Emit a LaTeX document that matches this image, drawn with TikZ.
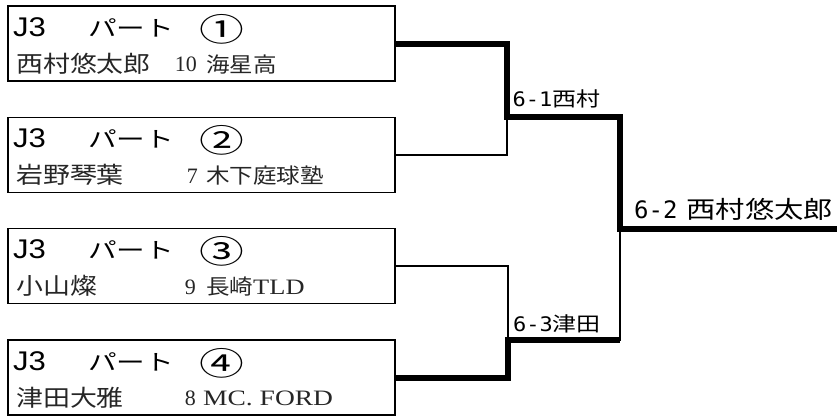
\documentclass[tikz,border=0pt]{standalone}
\usepackage{fontspec}
\setmainfont{Liberation Serif}
\newfontfamily\goth{Noto Sans CJK JP}
\newfontfamily\arialfont{Liberation Sans}
\newfontfamily\hankaku{DejaVu Sans Mono}
\newcommand{\wide}[2][1.2]{\scalebox{#1}[1]{#2}}

\tikzset{
  player/.style={draw,line width=1.6pt,minimum width=387pt,minimum height=75pt,inner sep=0pt},
  parttext/.style={anchor=base west,inner sep=0pt,font=\goth\fontsize{22}{22}\selectfont},
  pname/.style={anchor=base west,inner sep=0pt,text=black!85,font=\goth\fontsize{23}{23}\selectfont},
  pseed/.style={anchor=base east,inner sep=0pt,text=black!85,font=\rmfamily\fontsize{22}{22}\selectfont},
  pclub/.style={anchor=base west,inner sep=0pt,text=black!85,font=\goth\fontsize{21}{21}\selectfont},
  score/.style={anchor=base west,inner sep=0pt,font=\goth\fontsize{20}{20}\selectfont},
  win/.style={line width=6pt},
  lose/.style={line width=1.4pt}
}

\begin{document}
\begin{tikzpicture}[x=1pt,y=-1pt]
\useasboundingbox (0,0) rectangle (837,416);

% players
\node[player] (p1) at (201.5,43.5) {};
\node[player] (p2) at (201.5,155) {};
\node[player] (p3) at (201.5,266) {};
\node[player] (p4) at (201.5,377.5) {};

\node[parttext] (j1) at (13,36) {\arialfont\fontsize{27}{27}\selectfont\wide[1.15]{J3}};
\node[parttext] (k1) at (88,36) {\wide[1.3]{パート}};
\node[parttext] (n1) at (199,41) {\fontsize{32}{32}\selectfont\wide[1.4]{①}};
\node[pname] (a1) at (16,72) {\wide[1.17]{西村悠太郎}};
\node[pseed] (s1) at (197,71.5) {10};
\node[pclub] (c1) at (206,72) {\wide[1.12]{海星高}};

\node[parttext] (j2) at (13,147) {\arialfont\fontsize{27}{27}\selectfont\wide[1.15]{J3}};
\node[parttext] (k2) at (88,147) {\wide[1.3]{パート}};
\node[parttext] (n2) at (199,152) {\fontsize{32}{32}\selectfont\wide[1.4]{②}};
\node[pname] (a2) at (16,183.5) {\wide[1.17]{岩野琴葉}};
\node[pseed] (s2) at (198,183) {7};
\node[pclub] (c2) at (206,183.5) {\wide[1.12]{木下庭球塾}};

\node[parttext] (j3) at (13,258.5) {\arialfont\fontsize{27}{27}\selectfont\wide[1.15]{J3}};
\node[parttext] (k3) at (88,258.5) {\wide[1.3]{パート}};
\node[parttext] (n3) at (199,263.5) {\fontsize{32}{32}\selectfont\wide[1.4]{③}};
\node[pname] (a3) at (16,294.5) {\wide[1.17]{小山燦}};
\node[pseed] (s3) at (196,294) {9};
\node[pclub] (c3) at (206,294.5) {\wide[1.12]{長崎}\rmfamily\fontsize{22}{22}\selectfont\wide{TLD}};

\node[parttext] (j4) at (13,370) {\arialfont\fontsize{27}{27}\selectfont\wide[1.15]{J3}};
\node[parttext] (k4) at (88,370) {\wide[1.3]{パート}};
\node[parttext] (n4) at (199,375) {\fontsize{32}{32}\selectfont\wide[1.4]{④}};
\node[pname] (a4) at (16,406) {\wide[1.17]{津田大雅}};
\node[pseed] (s4) at (196,405.5) {8};
\node[pclub] (c4) at (203,405.5) {\rmfamily\fontsize{22}{22}\selectfont\wide[1.25]{MC. FORD}};

% bracket
\coordinate (m1) at (507,117);
\coordinate (m2) at (508,340);
\coordinate (f) at (620,229);
\coordinate (champ) at (837,229);

\draw[lose] (p2.east) -| (m1);
\draw[lose] (p3.east) -| (m2);
\draw[lose] (m2) -| (f);
\draw[win] (p1.east) -| (m1) -| (f) -- (champ);
\draw[win] (p4.east) -| (m2) -- (m2 -| f);

\node[score] (r1) at (512.5,106) {{\hankaku\fontsize{20}{20}\selectfont\wide[1.1]{6-1}}\wide{西村}};
\node[score] (r2) at (513,331) {{\hankaku\fontsize{20}{20}\selectfont\wide[1.1]{6-3}}\wide{津田}};
\node[score,font=\goth\fontsize{24}{24}\selectfont] (r3) at (634,218) {{\hankaku 6-2}\hspace{9pt}\wide[1.22]{西村悠太郎}};

\end{tikzpicture}
\end{document}
